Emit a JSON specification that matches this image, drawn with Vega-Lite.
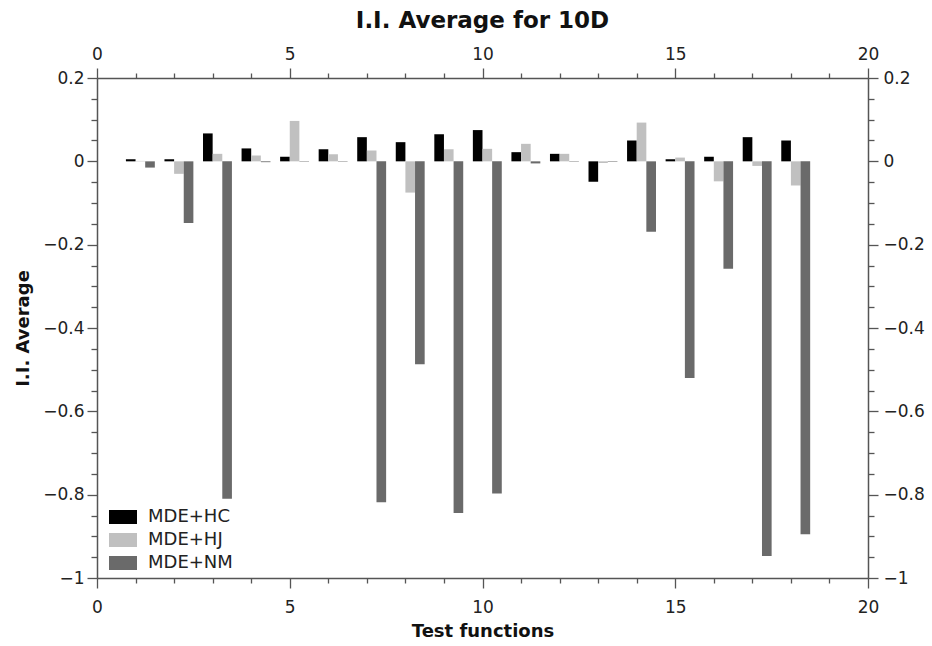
{
  "$schema": "https://vega.github.io/schema/vega-lite/v6.json",
  "width": 771,
  "height": 500,
  "autosize": "none",
  "padding": {"left": 97, "top": 78, "right": 64, "bottom": 68},
  "background": "white",
  "config": {
    "view": {"stroke": null},
    "font": "DejaVu Sans",
    "axis": {
      "grid": false,
      "domainColor": "#555555",
      "domainWidth": 1.5,
      "tickColor": "#555555",
      "tickWidth": 1.3,
      "labelFont": "DejaVu Sans",
      "labelFontSize": 17,
      "labelColor": "#222222",
      "titleFont": "DejaVu Sans",
      "titleFontSize": 18,
      "titleFontWeight": "bold",
      "titleColor": "#111111"
    },
    "legend": {
      "labelFont": "DejaVu Sans",
      "labelFontSize": 18,
      "labelColor": "#222222"
    }
  },
  "title": {
    "text": "I.I. Average for 10D",
    "font": "DejaVu Sans",
    "fontSize": 23,
    "fontWeight": "bold",
    "color": "#111111",
    "anchor": "middle",
    "frame": "group",
    "offset": 12
  },
  "data": {
    "values": [
      {"fn": 1, "method": "MDE+HC", "value": 0.005},
      {"fn": 1, "method": "MDE+HJ", "value": 0.001},
      {"fn": 1, "method": "MDE+NM", "value": -0.015},
      {"fn": 2, "method": "MDE+HC", "value": 0.005},
      {"fn": 2, "method": "MDE+HJ", "value": -0.030},
      {"fn": 2, "method": "MDE+NM", "value": -0.148},
      {"fn": 3, "method": "MDE+HC", "value": 0.067},
      {"fn": 3, "method": "MDE+HJ", "value": 0.018},
      {"fn": 3, "method": "MDE+NM", "value": -0.810},
      {"fn": 4, "method": "MDE+HC", "value": 0.031},
      {"fn": 4, "method": "MDE+HJ", "value": 0.014},
      {"fn": 4, "method": "MDE+NM", "value": -0.002},
      {"fn": 5, "method": "MDE+HC", "value": 0.011},
      {"fn": 5, "method": "MDE+HJ", "value": 0.097},
      {"fn": 5, "method": "MDE+NM", "value": -0.001},
      {"fn": 6, "method": "MDE+HC", "value": 0.029},
      {"fn": 6, "method": "MDE+HJ", "value": 0.017},
      {"fn": 6, "method": "MDE+NM", "value": -0.001},
      {"fn": 7, "method": "MDE+HC", "value": 0.058},
      {"fn": 7, "method": "MDE+HJ", "value": 0.026},
      {"fn": 7, "method": "MDE+NM", "value": -0.818},
      {"fn": 8, "method": "MDE+HC", "value": 0.046},
      {"fn": 8, "method": "MDE+HJ", "value": -0.075},
      {"fn": 8, "method": "MDE+NM", "value": -0.487},
      {"fn": 9, "method": "MDE+HC", "value": 0.065},
      {"fn": 9, "method": "MDE+HJ", "value": 0.029},
      {"fn": 9, "method": "MDE+NM", "value": -0.844},
      {"fn": 10, "method": "MDE+HC", "value": 0.075},
      {"fn": 10, "method": "MDE+HJ", "value": 0.030},
      {"fn": 10, "method": "MDE+NM", "value": -0.797},
      {"fn": 11, "method": "MDE+HC", "value": 0.022},
      {"fn": 11, "method": "MDE+HJ", "value": 0.042},
      {"fn": 11, "method": "MDE+NM", "value": -0.005},
      {"fn": 12, "method": "MDE+HC", "value": 0.018},
      {"fn": 12, "method": "MDE+HJ", "value": 0.018},
      {"fn": 12, "method": "MDE+NM", "value": -0.001},
      {"fn": 13, "method": "MDE+HC", "value": -0.049},
      {"fn": 13, "method": "MDE+HJ", "value": -0.004},
      {"fn": 13, "method": "MDE+NM", "value": -0.001},
      {"fn": 14, "method": "MDE+HC", "value": 0.050},
      {"fn": 14, "method": "MDE+HJ", "value": 0.093},
      {"fn": 14, "method": "MDE+NM", "value": -0.169},
      {"fn": 15, "method": "MDE+HC", "value": 0.005},
      {"fn": 15, "method": "MDE+HJ", "value": 0.009},
      {"fn": 15, "method": "MDE+NM", "value": -0.520},
      {"fn": 16, "method": "MDE+HC", "value": 0.011},
      {"fn": 16, "method": "MDE+HJ", "value": -0.048},
      {"fn": 16, "method": "MDE+NM", "value": -0.258},
      {"fn": 17, "method": "MDE+HC", "value": 0.058},
      {"fn": 17, "method": "MDE+HJ", "value": -0.011},
      {"fn": 17, "method": "MDE+NM", "value": -0.947},
      {"fn": 18, "method": "MDE+HC", "value": 0.050},
      {"fn": 18, "method": "MDE+HJ", "value": -0.058},
      {"fn": 18, "method": "MDE+NM", "value": -0.895}
    ]
  },
  "transform": [
    {"calculate": "datum.fn - 0.25 + 0.25 * indexof(['MDE+HC', 'MDE+HJ', 'MDE+NM'], datum.method)", "as": "xs"},
    {"calculate": "datum.xs + 0.25", "as": "xe"}
  ],
  "layer": [
    {
      "mark": {"type": "bar"},
      "encoding": {
        "x": {
          "field": "xs",
          "type": "quantitative",
          "scale": {"domain": [0, 20], "nice": false, "zero": false},
          "axis": {
            "orient": "bottom",
            "values": [0, 5, 10, 15, 20],
            "format": "d",
            "tickSize": 10,
            "labelPadding": 11,
            "labelFlush": false,
            "title": "Test functions",
            "titlePadding": 7
          }
        },
        "x2": {"field": "xe"},
        "y": {
          "field": "value",
          "type": "quantitative",
          "scale": {"domain": [-1, 0.2], "nice": false, "zero": false},
          "axis": {
            "orient": "left",
            "values": [-1, -0.8, -0.6, -0.4, -0.2, 0, 0.2],
            "format": ".1~f",
            "tickSize": 10,
            "labelPadding": 3,
            "title": "I.I. Average",
            "titlePadding": 10
          }
        },
        "y2": {"datum": 0},
        "color": {
          "field": "method",
          "type": "nominal",
          "scale": {
            "domain": ["MDE+HC", "MDE+HJ", "MDE+NM"],
            "range": ["#000000", "#c0c0c0", "#6a6a6a"]
          },
          "legend": {
            "title": null,
            "orient": "none",
            "legendX": 12,
            "legendY": 425,
            "padding": 0,
            "symbolType": "M-1,-0.5H1V0.5H-1Z",
            "symbolSize": 784,
            "symbolStrokeWidth": 0,
            "labelOffset": 11,
            "rowPadding": 0
          }
        }
      }
    },
    {
      "mark": {"type": "point", "opacity": 0},
      "encoding": {
        "x": {
          "field": "xs",
          "type": "quantitative",
          "scale": {"domain": [0, 20], "nice": false, "zero": false},
          "axis": {
            "orient": "top",
            "values": [0, 5, 10, 15, 20],
            "format": "d",
            "tickSize": 10,
            "labelPadding": 5,
            "labelFlush": false,
            "title": null
          }
        },
        "y": {
          "field": "value",
          "type": "quantitative",
          "scale": {"domain": [-1, 0.2], "nice": false, "zero": false},
          "axis": {
            "orient": "right",
            "values": [-1, -0.8, -0.6, -0.4, -0.2, 0, 0.2],
            "format": ".1~f",
            "tickSize": 10,
            "labelPadding": 5,
            "title": null
          }
        }
      }
    },
    {
      "mark": {"type": "point", "opacity": 0},
      "encoding": {
        "x": {
          "field": "xs",
          "type": "quantitative",
          "scale": {"domain": [0, 20], "nice": false, "zero": false},
          "axis": {
            "orient": "bottom",
            "values": [1, 2, 3, 4, 6, 7, 8, 9, 11, 12, 13, 14, 16, 17, 18, 19],
            "domain": false,
            "labels": false,
            "tickSize": 5,
            "title": null
          }
        },
        "y": {
          "field": "value",
          "type": "quantitative",
          "scale": {"domain": [-1, 0.2], "nice": false, "zero": false},
          "axis": {
            "orient": "left",
            "values": [-0.95, -0.9, -0.85, -0.75, -0.7, -0.65, -0.55, -0.5, -0.45, -0.35, -0.3, -0.25, -0.15, -0.1, -0.05, 0.05, 0.1, 0.15],
            "domain": false,
            "labels": false,
            "tickSize": 6,
            "title": null
          }
        }
      }
    },
    {
      "mark": {"type": "point", "opacity": 0},
      "encoding": {
        "x": {
          "field": "xs",
          "type": "quantitative",
          "scale": {"domain": [0, 20], "nice": false, "zero": false},
          "axis": {
            "orient": "top",
            "values": [1, 2, 3, 4, 6, 7, 8, 9, 11, 12, 13, 14, 16, 17, 18, 19],
            "domain": false,
            "labels": false,
            "tickSize": 5,
            "title": null
          }
        },
        "y": {
          "field": "value",
          "type": "quantitative",
          "scale": {"domain": [-1, 0.2], "nice": false, "zero": false},
          "axis": {
            "orient": "right",
            "values": [-0.95, -0.9, -0.85, -0.75, -0.7, -0.65, -0.55, -0.5, -0.45, -0.35, -0.3, -0.25, -0.15, -0.1, -0.05, 0.05, 0.1, 0.15],
            "domain": false,
            "labels": false,
            "tickSize": 6,
            "title": null
          }
        }
      }
    }
  ],
  "resolve": {"axis": {"x": "independent", "y": "independent"}}
}
